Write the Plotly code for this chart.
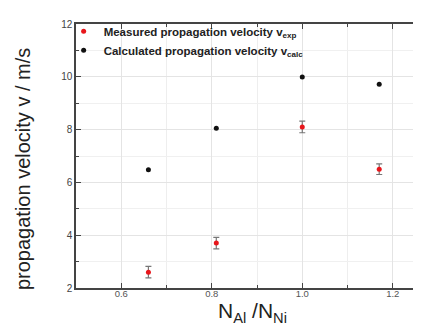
import plotly.graph_objects as go

ratio = [0.66, 0.81, 1.0, 1.17]
v_exp = [2.6, 3.7, 8.1, 6.5]
v_exp_err = [0.22, 0.22, 0.22, 0.2]
v_calc = [6.48, 8.05, 9.99, 9.72]

FONT = "Liberation Sans"

fig = go.Figure()
fig.add_trace(go.Scatter(
    x=ratio, y=v_exp, mode="markers",
    name="Measured propagation velocity v<sub>exp</sub>",
    marker=dict(color="#e8161b", size=5),
    error_y=dict(type="data", array=v_exp_err, color="#777777", thickness=1.2, width=3),
))
fig.add_trace(go.Scatter(
    x=ratio, y=v_calc, mode="markers",
    name="Calculated propagation velocity v<sub>calc</sub>",
    marker=dict(color="#111111", size=5),
))

fig.update_layout(
    width=421, height=329,
    margin=dict(l=68, r=0, t=16, b=49),
    paper_bgcolor="white", plot_bgcolor="white",
    font=dict(family=FONT, color="#333333"),
    showlegend=True,
    legend=dict(
        x=-0.035, y=1.027, xanchor="left", yanchor="top",
        bgcolor="rgba(0,0,0,0)",
        font=dict(family=FONT, size=11.5, color="#222222", weight="bold"),
        tracegroupgap=0,
    ),
    annotations=[dict(
        text="propagation velocity v / m/s", textangle=-90,
        xref="paper", yref="paper", x=-0.15, y=(280 - 161) / 264,
        xanchor="center", yanchor="middle", showarrow=False,
        font=dict(family=FONT, size=20, color="#222222"),
    )],
)
fig.update_xaxes(
    range=[0.5, 1.28], tickvals=[0.6, 0.8, 1.0, 1.2], ticktext=["0.6", "0.8", "1.0", "1.2"],
    showline=True, linecolor="#444444", linewidth=1.5, mirror="ticks",
    ticks="inside", ticklen=5, tickcolor="#444444", tickwidth=1.2,
    showgrid=True, gridcolor="#e4e4e4", gridwidth=1,
    minor=dict(tickvals=[0.7, 0.9, 1.1], ticks="inside", ticklen=3, tickcolor="#444444",
               showgrid=True, gridcolor="#eeeeee"),
    tickfont=dict(size=9.5, color="#555555"),
    ticklabelstandoff=-4,
    zeroline=False,
    title=dict(text="N<sub>Al</sub> /N<sub>Ni</sub>", font=dict(size=21, color="#222222"), standoff=4),
)
fig.update_yaxes(
    range=[2, 12], tickvals=[2, 4, 6, 8, 10, 12],
    showline=True, linecolor="#444444", linewidth=1.5, mirror=False,
    ticks="inside", ticklen=5, tickcolor="#444444", tickwidth=1.2,
    showgrid=True, gridcolor="#e4e4e4", gridwidth=1,
    minor=dict(tickvals=[3, 5, 7, 9, 11], ticks="inside", ticklen=3, tickcolor="#444444",
               showgrid=True, gridcolor="#f0f0f0"),
    tickfont=dict(size=10, color="#444444"),
    zeroline=False,
)

fig.write_html("out.html")
